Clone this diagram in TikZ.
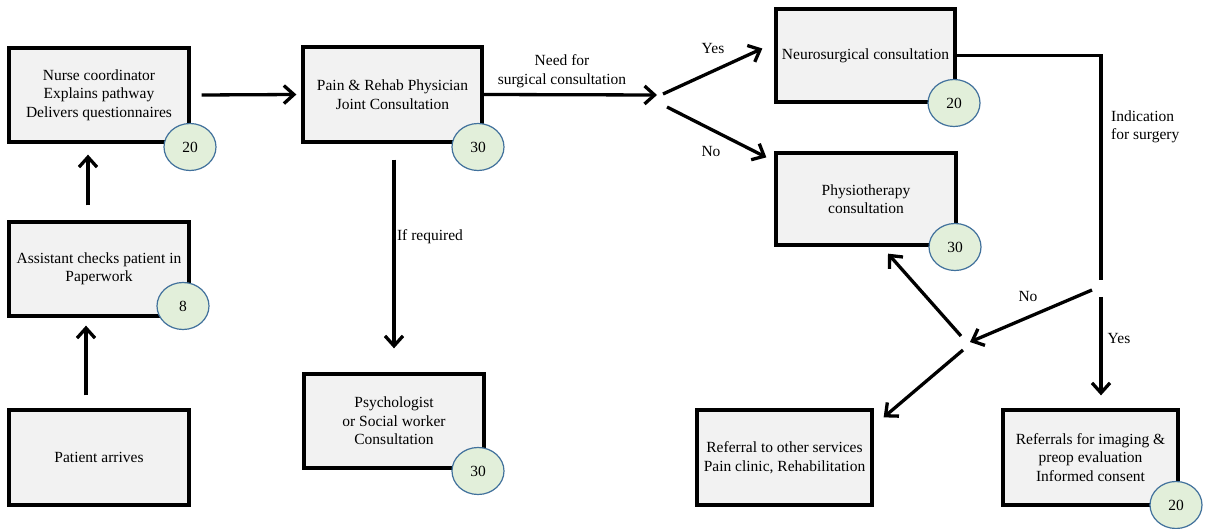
\documentclass[tikz,border=0pt]{standalone}
\usepackage{fontspec}
\setmainfont{Liberation Serif}
\usetikzlibrary{arrows.meta,calc,shapes.geometric}
\definecolor{boxfill}{HTML}{F2F2F2}
\definecolor{badgefill}{HTML}{E2EFDA}
\definecolor{badgeline}{HTML}{41719C}
\tikzset{
  txt/.style={font=\fontsize{15.5}{18.5}\selectfont, align=center, inner sep=1pt},
  stage/.style={txt, rectangle, draw=black, line width=3.3pt, fill=boxfill, inner sep=2pt},
  badge/.style={txt, ellipse, draw=badgeline, line width=1.2pt, fill=badgefill,
    minimum width=52pt, minimum height=47pt, inner sep=0pt},
  arr/.style={line width=3.3pt, -{Straight Barb[length=10pt,width=18pt]}},
  link/.style={line width=3.3pt},
}
\begin{document}
\begin{tikzpicture}[x=1pt,y=-1pt]
\useasboundingbox (0,0) rectangle (1216,529);

% ---- stages ----
\node[stage, minimum width=180pt, minimum height=94pt] (nurse) at (99,95)
  {Nurse coordinator\\Explains pathway\\Delivers questionnaires};
\node[stage, minimum width=180pt, minimum height=94pt] (assist) at (99,269)
  {Assistant checks patient in\\Paperwork};
\node[stage, minimum width=180pt, minimum height=95pt] (arrive) at (99,457.5)
  {Patient arrives};
\node[stage, minimum width=179pt, minimum height=95pt] (pain) at (392.5,94.5)
  {Pain \& Rehab Physician\\Joint Consultation};
\node[stage, minimum width=180pt, minimum height=94pt] (psych) at (394,421)
  {Psychologist\\or Social worker\\Consultation};
\node[stage, minimum width=179pt, minimum height=93pt] (neuro) at (865.5,55.5)
  {Neurosurgical consultation};
\node[stage, minimum width=180pt, minimum height=92pt] (physio) at (866,199)
  {Physiotherapy\\consultation};
\node[stage, minimum width=175pt, minimum height=95pt] (other) at (784.5,457.5)
  {Referral to other services\\Pain clinic, Rehabilitation};
\node[stage, minimum width=175pt, minimum height=95pt] (preop) at (1090.5,457.5)
  {Referrals for imaging \&\\preop evaluation\\Informed consent};

% ---- duration badges (minutes) ----
\node[badge] (tNurse)  at (190,147)  {20};
\node[badge] (tAssist) at (183,306)  {8};
\node[badge] (tPain)   at (478,147)  {30};
\node[badge] (tPsych)  at (478,471)  {30};
\node[badge] (tNeuro)  at (954,103)  {20};
\node[badge] (tPhysio) at (955,247)  {30};
\node[badge] (tPreop)  at (1176,505) {20};

% ---- decision points ----
\coordinate (fork1) at (660,98);
\coordinate (fork2) at (1101,288);
\coordinate (fork3) at (963,343);

% ---- connectors ----
\draw[arr] ($(arrive.north)+(-13,-13)$) -- ($(assist.south)+(-13,8)$);
\draw[arr] ($(assist.north)+(-11,-15)$) -- ($(nurse.south)+(-11,11)$);
\draw[arr] ($(nurse.east)+(11,0)$) -- ($(pain.west)+(-5,0)$);
\draw[arr] (pain.east) -- ($(fork1)+(-3,-3)$);
\draw[arr] ($(fork1)+(3,-4)$) -- ($(neuro.west)+(-12,-7)$);
\draw[arr] ($(fork1)+(7,9)$) -- ($(physio.north west)+(-8,6)$);
\draw[arr] ($(pain.south)+(1.5,16)$) -- ($(psych.north)+(0,-24)$);
\draw[link] (neuro.east) -- (neuro.east -| fork2) -- ($(fork2)+(0,-8)$);
\draw[arr] ($(fork2)+(0,9)$) -- ($(preop.north -| fork2)+(0,-13)$);
\draw[arr] ($(fork2)+(-9,2)$) -- ($(fork3)+(7,-1)$);
\draw[arr] ($(fork3)+(-2,-7)$) -- ($(physio.south)+(22,7)$);
\draw[arr] ($(fork3)+(0,7)$) -- ($(other.north east)+(10,9)$);

% ---- connector labels ----
\node[txt] (lNeed) at (562,71) {Need for\\surgical consultation};
\node[txt] (lYes1) at (713,49) {Yes};
\node[txt] (lNo1)  at (711,152) {No};
\node[txt] (lIf)   at (430,237) {If required};
\node[txt, align=left, anchor=west] (lInd) at (1110,127) {Indication\\for surgery};
\node[txt] (lNo2)  at (1028,297) {No};
\node[txt] (lYes2) at (1119,339) {Yes};
\end{tikzpicture}
\end{document}
